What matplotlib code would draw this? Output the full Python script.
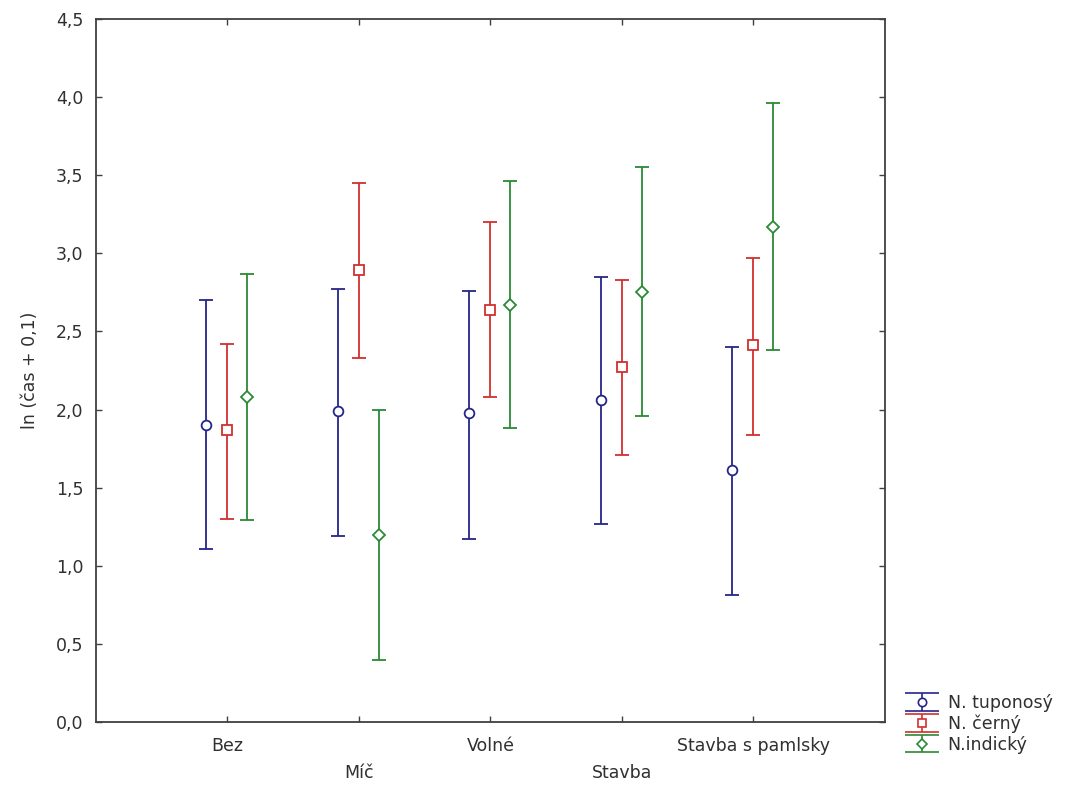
import matplotlib
matplotlib.use("Agg")
import matplotlib.pyplot as plt
import numpy as np

plt.rcParams['font.family'] = ['DejaVu Sans']

categories = ['Bez', 'Míč', 'Volné', 'Stavba', 'Stavba s pamlsky']
series = ['N. tuponosý', 'N. černý', 'N.indický']

# mean, upper, lower per series
tup_mean = [1.90, 1.99, 1.98, 2.06, 1.61]
tup_hi = [2.70, 2.77, 2.76, 2.85, 2.40]
tup_lo = [1.11, 1.19, 1.17, 1.27, 0.81]

cer_mean = [1.87, 2.89, 2.64, 2.27, 2.41]
cer_hi = [2.42, 3.45, 3.20, 2.83, 2.97]
cer_lo = [1.30, 2.33, 2.08, 1.71, 1.84]

ind_mean = [2.08, 1.20, 2.67, 2.75, 3.17]
ind_hi = [2.87, 2.00, 3.46, 3.55, 3.96]
ind_lo = [1.29, 0.40, 1.88, 1.96, 2.38]

colors = ['#25258a', '#d22f2f', '#2a8a35']
markers = ['o', 's', 'D']
msizes = [7, 7, 6]
offsets = [-0.16, 0.0, 0.15]

fig = plt.figure(figsize=(10.70, 7.87), dpi=100)
ax = fig.add_axes([0.0897, 0.0826, 0.7374, 0.8933])

x = np.arange(1, len(categories) + 1)
data = [(tup_mean, tup_hi, tup_lo), (cer_mean, cer_hi, cer_lo), (ind_mean, ind_hi, ind_lo)]
handles = []
for i, (m, hi, lo) in enumerate(data):
    m = np.array(m); hi = np.array(hi); lo = np.array(lo)
    ax.errorbar(x + offsets[i], m, yerr=[m - lo, hi - m], fmt=markers[i],
                color=colors[i], mfc='white', mec=colors[i], ms=msizes[i],
                mew=1.3, elinewidth=1.3, capsize=5, capthick=1.3, zorder=3)
    # legend proxy with wide caps, placed outside the view
    h = ax.errorbar([-10], [1], yerr=[0.5], fmt=markers[i], color=colors[i],
                    mfc='white', mec=colors[i], ms=msizes[i] - 1, mew=1.2,
                    elinewidth=1.2, capsize=12, capthick=1.2, label=series[i])
    handles.append(h)

ax.set_xlim(0, 6)
ax.set_ylim(0, 4.5)
ax.set_yticks(np.arange(0, 4.51, 0.5))
ax.set_yticklabels([f'{v:.1f}'.replace('.', ',') for v in np.arange(0, 4.51, 0.5)])
ax.set_xticks(x)
ax.set_xticklabels([c if i % 2 == 0 else '\n' + c for i, c in enumerate(categories)])
for lab in ax.get_xticklabels():
    lab.set_linespacing(1.65)
ax.set_ylabel('ln (čas + 0,1)', fontsize=12.5, labelpad=12, color='#303030')

ax.tick_params(direction='in', top=True, right=True, length=4, width=1,
               color='#404040', labelsize=12.5, labelcolor='#303030')
ax.tick_params(axis='x', pad=11)
ax.tick_params(axis='y', pad=9)
for s in ax.spines.values():
    s.set_color('#404040')
    s.set_linewidth(1.3)

leg = fig.legend(handles=handles, labels=series, loc='upper left',
                 bbox_to_anchor=(0.8458, 0.118), bbox_transform=fig.transFigure,
                 frameon=False, fontsize=12.5, handlelength=2.0, handletextpad=0.45,
                 labelspacing=0.15, borderaxespad=0, borderpad=0)
for t in leg.get_texts():
    t.set_color('#303030')

fig.savefig('out.png', dpi=100)
